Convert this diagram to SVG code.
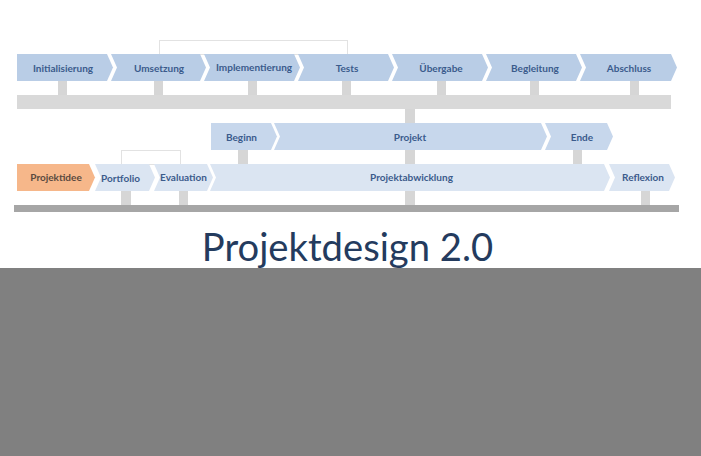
<svg xmlns="http://www.w3.org/2000/svg" width="701" height="456" viewBox="0 0 701 456">
<style>
.c1{fill:#b9cde6}
.c2{fill:#c7d7ec}
.c3{fill:#dbe5f2}
.co{fill:#f6b78a}
.stem{fill:#d6d6d6}
.bar{fill:#d9d9d9}
.lbl{font-family:Lato,"Open Sans","Liberation Sans",sans-serif;font-weight:700;font-size:10px;fill:#3b5b8c;text-anchor:middle}
.lblo{fill:#5a4a40}
.frame{fill:none;stroke:#e2e2e2;stroke-width:1}
</style>
<rect width="701" height="456" fill="#ffffff"/>
<g id="connectors">
<rect class="frame" x="159.5" y="40.5" width="188" height="14"/>
<rect class="frame" x="121.5" y="150.5" width="59" height="14"/>
<rect class="stem" x="58" y="81" width="9" height="14"/>
<rect class="stem" x="154" y="81" width="9" height="14"/>
<rect class="stem" x="248" y="81" width="9" height="14"/>
<rect class="stem" x="342" y="81" width="9" height="14"/>
<rect class="stem" x="437" y="81" width="9" height="14"/>
<rect class="stem" x="530" y="81" width="9" height="14"/>
<rect class="stem" x="630" y="81" width="9" height="14"/>
<rect class="bar" x="17" y="95" width="654" height="14"/>
<rect class="stem" x="405" y="109" width="10" height="14"/>
<rect class="stem" x="238" y="150" width="10" height="14"/>
<rect class="stem" x="405" y="150" width="10" height="14"/>
<rect class="stem" x="573" y="150" width="9" height="14"/>
<rect class="stem" x="121" y="191" width="10" height="14"/>
<rect class="stem" x="179" y="191" width="9" height="14"/>
<rect class="stem" x="405" y="191" width="10" height="14"/>
<rect class="stem" x="641" y="191" width="9" height="14"/>
<rect x="14" y="205" width="665" height="7" fill="#a6a6a6"/>
</g>
<g id="initialisierung"><polygon class="c1" points="17,54 107,54 113,67.5 107,81 17,81"/><text class="lbl" x="63" y="72">Initialisierung</text></g>
<g id="umsetzung"><polygon class="c1" points="111,54 200,54 206,67.5 200,81 111,81 117,67.5"/><text class="lbl" x="159" y="72">Umsetzung</text></g>
<g id="implementierung"><polygon class="c1" points="204,54 294,54 300,67.5 294,81 204,81 210,67.5"/><text class="lbl" x="254" y="71">Implementierung</text></g>
<g id="tests"><polygon class="c1" points="298,54 388,54 394,67.5 388,81 298,81 304,67.5"/><text class="lbl" x="347" y="72">Tests</text></g>
<g id="uebergabe"><polygon class="c1" points="392,54 482,54 488,67.5 482,81 392,81 398,67.5"/><text class="lbl" x="441" y="72">Übergabe</text></g>
<g id="begleitung"><polygon class="c1" points="486,54 576,54 582,67.5 576,81 486,81 492,67.5"/><text class="lbl" x="535" y="72">Begleitung</text></g>
<g id="abschluss"><polygon class="c1" points="580,54 671,54 677,67.5 671,81 580,81 586,67.5"/><text class="lbl" x="629" y="72">Abschluss</text></g>
<g id="beginn"><polygon class="c2" points="211,123 271,123 277,136.5 271,150 211,150"/><text class="lbl" x="241.5" y="140.5">Beginn</text></g>
<g id="projekt"><polygon class="c2" points="274,123 541,123 547,136.5 541,150 274,150 280,136.5"/><text class="lbl" x="410" y="140.5">Projekt</text></g>
<g id="ende"><polygon class="c2" points="545,123 607,123 613,136.5 607,150 545,150 551,136.5"/><text class="lbl" x="582" y="140.5">Ende</text></g>
<g id="projektidee"><polygon class="co" points="17,164 89,164 95,177.5 89,191 17,191"/><text class="lbl lblo" x="56" y="181">Projektidee</text></g>
<g id="portfolio"><polygon class="c3" points="95,164 149,164 155,177.5 149,191 95,191 101,177.5"/><text class="lbl" x="120.5" y="182">Portfolio</text></g>
<g id="evaluation"><polygon class="c3" points="154,164 207,164 213,177.5 207,191 154,191 160,177.5"/><text class="lbl" x="183.5" y="180.5">Evaluation</text></g>
<g id="projektabwicklung"><polygon class="c3" points="210,164 604,164 610,177.5 604,191 210,191 216,177.5"/><text class="lbl" x="411.5" y="181">Projektabwicklung</text></g>
<g id="reflexion"><polygon class="c3" points="609,164 669,164 675,177.5 669,191 609,191 615,177.5"/><text class="lbl" x="643" y="181">Reflexion</text></g>
<g id="title"><text x="347.5" y="261" font-family="Lato,'Open Sans','Liberation Sans',sans-serif" font-size="38.2" fill="#243b5e" text-anchor="middle">Projektdesign 2.0</text></g>
<rect x="0" y="268" width="701" height="188" fill="#808080"/>
</svg>
